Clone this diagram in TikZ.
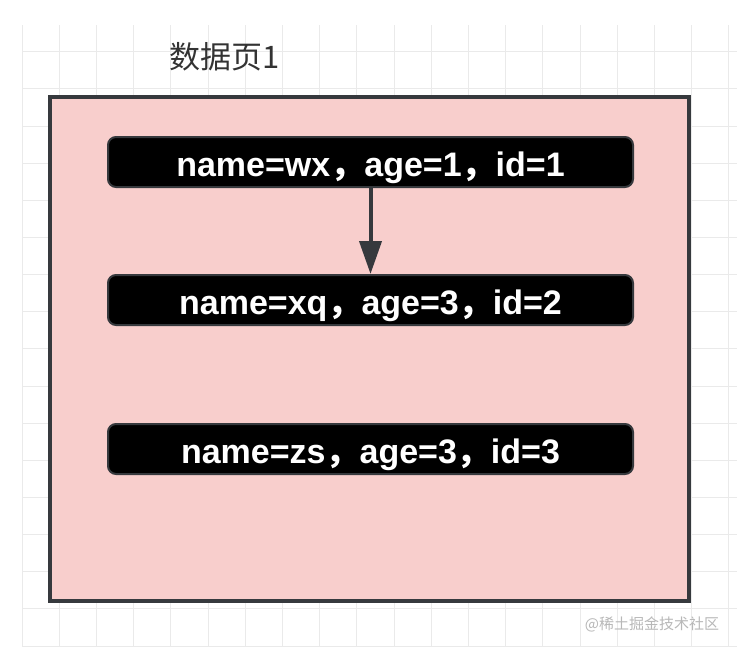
\documentclass[tikz,border=0pt]{standalone}
\usepackage{fontspec}
\setmainfont{Liberation Sans}
\newfontfamily\cjk{Noto Sans CJK SC}
\usetikzlibrary{arrows.meta}
\definecolor{pagefill}{HTML}{F8CECC}
\definecolor{edgec}{HTML}{36393D}
\definecolor{gridc}{HTML}{EAEAEA}
\definecolor{titlec}{HTML}{333333}
\newcommand{\fcm}{{\cjk ，}}
\begin{document}
\begin{tikzpicture}[x=1pt,y=-1pt,
  gridline/.style={gridc, line width=1pt},
  pagebox/.style={draw=edgec, line width=4pt, fill=pagefill, minimum width=639pt, minimum height=504pt, inner sep=0pt},
  recbox/.style={rectangle, rounded corners=8pt, fill=black, draw=edgec, line width=2pt,
     minimum width=525pt, minimum height=50pt, inner sep=0pt, text=white,
     text height=28pt, text depth=0pt,
     font=\bfseries\fontsize{34}{34}\selectfont},
  titletext/.style={font=\cjk\fontsize{31}{31}\selectfont, text=titlec},
  marktext/.style={font=\cjk\fontsize{15}{15}\selectfont, text=black!28},
  flow/.style={edgec, line width=4pt, -{Triangle[length=33pt,width=22pt]}}]
\useasboundingbox (0,0) rectangle (756,654);
\fill[white] (0,0) rectangle (756,654);
\foreach \i in {0,...,19} \draw[gridline] ({22+37.2*\i},25) -- ({22+37.2*\i},646);
\foreach \j in {0,...,16} \draw[gridline] (22,{51.7+37.15*\j}) -- (737,{51.7+37.15*\j});
\node[pagebox] (page) at (369.5,349) {};
\node[titletext] (title) at (225,57) {数据页1};
\node[recbox] (r1) at (370.5,162) {name=wx\fcm age=1\fcm id=1};
\node[recbox] (r2) at (370.5,300) {name=xq\fcm age=3\fcm id=2};
\node[recbox] (r3) at (370.5,449) {name=zs\fcm age=3\fcm id=3};
\draw[flow] (r1) -- (r2);
\node[marktext] (wm) at (652,624) {@稀土掘金技术社区};
\end{tikzpicture}
\end{document}
